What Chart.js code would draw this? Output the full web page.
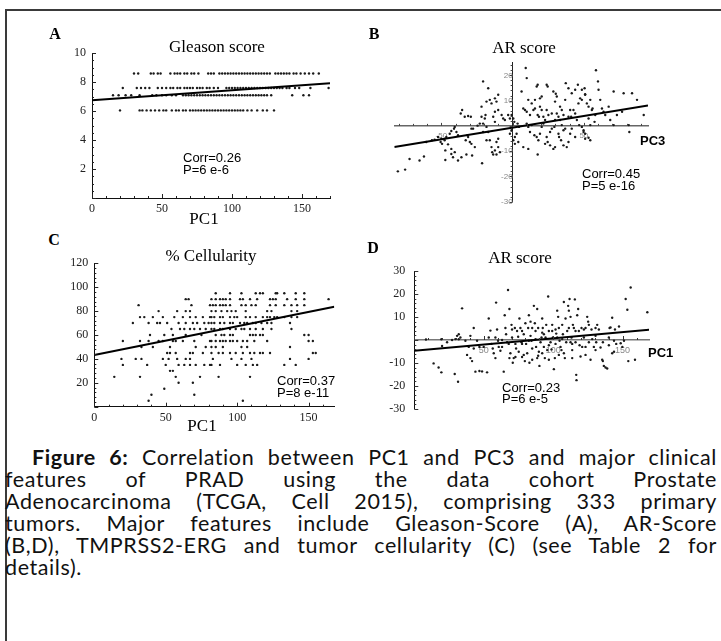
<!DOCTYPE html>
<html>
<head>
<meta charset="utf-8">
<script src="https://cdn.jsdelivr.net/npm/chart.js@4.4.0/dist/chart.umd.min.js"></script>
<style>
body { margin: 0; background: #fff; }
#fig { position: relative; width: 721px; height: 641px; overflow: hidden; background: #fff; }
.frame { position: absolute; left: 5px; top: 9px; width: 760px; height: 700px;
         border-left: 2px solid #3a3a3a; border-top: 2px solid #3a3a3a; }
canvas { position: absolute; }
.lab { position: absolute; white-space: nowrap; color: #000; line-height: 1; transform: translate(-50%, -50%); }
.left { transform: translate(0, -50%); }
.serif { font-family: "Liberation Serif", "Times New Roman", serif; }
.sans { font-family: "Liberation Sans", Arial, sans-serif; }
.cap { position: absolute; left: 5px; top: 446px; width: 712px; font-family: Lato, sans-serif;
       font-size: 21.5px; letter-spacing: 0.6px; line-height: 22px; color: #111; }
.cap div { text-align: justify; text-align-last: justify; white-space: nowrap; }
.cap div.last { text-align-last: left; }
</style>
</head>
<body>
<div id="fig">
  <div class="frame"></div>

  <canvas id="chartA" width="310" height="190" style="left:40px;top:40px"></canvas>
  <canvas id="chartB" width="290" height="160" style="left:380px;top:55px"></canvas>
  <canvas id="chartC" width="310" height="190" style="left:40px;top:250px"></canvas>
  <canvas id="chartD" width="300" height="170" style="left:370px;top:255px"></canvas>

  <div class="lab serif" style="left:55px;top:34px;font-size:16px;font-weight:bold">A</div>
  <div class="lab serif" style="left:217px;top:46px;font-size:17px">Gleason score</div>
  <div class="lab sans left" style="left:183px;top:157px;font-size:13px">Corr=0.26</div>
  <div class="lab sans left" style="left:183px;top:169px;font-size:13px">P=6 e-6</div>
  <div class="lab serif" style="left:204px;top:218px;font-size:17px">PC1</div>

  <div class="lab serif" style="left:374px;top:34px;font-size:16px;font-weight:bold">B</div>
  <div class="lab serif" style="left:524px;top:47px;font-size:17px">AR score</div>
  <div class="lab sans left" style="left:640px;top:140px;font-size:13px;font-weight:bold">PC3</div>
  <div class="lab sans left" style="left:582px;top:173px;font-size:13px">Corr=0.45</div>
  <div class="lab sans left" style="left:582px;top:185px;font-size:13px">P=5 e-16</div>

  <div class="lab serif" style="left:54px;top:240px;font-size:16px;font-weight:bold">C</div>
  <div class="lab serif" style="left:211px;top:255px;font-size:17px">% Cellularity</div>
  <div class="lab sans left" style="left:277px;top:380px;font-size:13px">Corr=0.37</div>
  <div class="lab sans left" style="left:277px;top:392px;font-size:13px">P=8 e-11</div>
  <div class="lab serif" style="left:202px;top:425px;font-size:17px">PC1</div>

  <div class="lab serif" style="left:373px;top:248px;font-size:16px;font-weight:bold">D</div>
  <div class="lab serif" style="left:520px;top:257px;font-size:17px">AR score</div>
  <div class="lab sans left" style="left:648px;top:352px;font-size:13px;font-weight:bold">PC1</div>
  <div class="lab sans left" style="left:502px;top:387px;font-size:13px">Corr=0.23</div>
  <div class="lab sans left" style="left:502px;top:398px;font-size:13px">P=6 e-5</div>

  <div class="cap">
    <div style="text-indent:27px"><b>Figure 6:</b> Correlation between PC1 and PC3 and major clinical</div>
    <div>features of PRAD using the data cohort Prostate</div>
    <div>Adenocarcinoma (TCGA, Cell 2015), comprising 333 primary</div>
    <div>tumors. Major features include Gleason-Score (A), AR-Score</div>
    <div>(B,D), TMPRSS2-ERG and tumor cellularity (C) (see Table 2 for</div>
    <div class="last">details).</div>
  </div>
</div>

<script>
// ---- A: Gleason score vs PC1 (points sit on a few score levels)
const gleasonLevels = [8.6, 7.6, 7.1, 6.05];
const gleasonRowsX = [
  [30,33,42,44,47,49,56,59,61,63,66,68,71,73,76,83,85,87,91,93,95,97,99,101,103,105,107,109,111,113,115,117,119,121,123,125,127,131,133,135,137,139,141,144,146,149,152,155,158,162],
  [22,32,35,38,41,47,50,53,56,58,61,63,66,68,70,72,75,77,79,82,84,87,90,96,98,100,102,104,106,108,110,112,114,116,118,120,122,124,126,128,130,132,134,136,139,141,145,148,156,169],
  [15,19,24,28,34,43,46,50,53,57,60,65,67,69,71,73,75,77,79,81,83,85,87,89,91,93,95,97,99,101,103,105,107,109,111,113,115,117,119,121,123,125,128,143,151,155],
  [20,34,36,39,42,45,48,51,53,57,60,62,65,67,70,72,74,76,78,80,82,84,86,88,90,92,94,96,98,100,102,104,106,108,111,114,118,122,125,130]
];
const gleasonFitX = [0, 170];
const gleasonFitY = [6.75, 7.93];
const aXTicks = [0, 50, 100, 150];
const aYTicks = [2, 4, 6, 8, 10];

// ---- B: AR score vs PC3
const arPC3X = [-80.5,-75.4,-72.3,-65.3,-62.2,-60.6,-56.6,-54.7,-52.3,-50,-47.7,-46.5,-44.1,-43,-41.1,-40.6,-39.4,-38.3,-36.4,-35.4,
  -33.6,-31.2,-29.3,-27.7,-31.2,-30,-28.9,-26.5,-28.4,-32.4,-35.9,-38.3,-41.8,-43,-47.2,-47.2,-50.5,-49.5,-45.3,-43,-40.6,
  -20.7,-17.1,-16,-14.8,-12.4,-11.3,-10.1,-12.4,-13.6,-12.4,-10.1,-7.7,-6.6,-5.4,-3.1,-1.9,-21.8,-19.5,-19,-20.7,
  -18.3,-17.1,-14.8,-14.3,-12.4,-11.3,-10.1,-11.3,-10.1,-8.9,-13.6,-21.4,-18.3,-16,
  -0.7,0.5,1.2,-0.7,-1.9,1.6,4,2.8,4.5,3.5,
  9.2,9.9,6.3,7.5,8.7,9.9,11,13.4,12.2,14.6,15.7,16.9,19.2,17.6,18.5,9.9,11,12.2,13.4,15.3,
  16.9,18.1,19.2,20.4,21.6,22.8,23.9,24.6,26.3,27.5,29.3,29.8,31,32.2,29.8,31,33.3,34.5,35.7,36.9,
  23.9,24.6,28.6,30.3,33.3,34.5,35.7,36.9,32.2,32.6,34,35.7,38,39.2,40.4,41.5,41.1,42.7,43.9,45.1,
  46.7,48.6,49.8,50.9,46.2,47.4,48.6,50.9,52.1,53.3,50.5,50.9,48.6,45.8,43.9,41.5,39.2,37.3,40.4,54.5,
  55.6,53.3,58,58.5,59.9,60.3,61.5,62.7,63.8,65,67.4,68.5,70.9,70.9,73.2,76.8,77.9,81.5,81.9,83.8,
  87.3,92,56.1,57.5,54.5,53.3,50.9,49.8,54.5,39.2,43.9,26.3,28.6,29.8,22.8,21.6,15.7,19.2,20.4,27.5,
  25.1,23.9,20.4,17.6,
  -31.7,-32.9,-28.9,-24.6,-23,-20.7,-18.3,-21.8,
  7.5,11,17.6,1.6,0.5];
const arPC3Y = [-18,-17.3,-13.1,-13.7,-12.1,-6.4,-5.7,-5.5,-4.4,-5.1,-5.7,-4.4,-3.1,-2,-1.1,-0.4,-2.4,-3.7,4.9,6.3,
  3.6,3.9,3.6,-1.1,-4.4,-6.4,-7.1,-8.4,-11.7,-11.3,-12.4,-13.7,-12.4,-11.1,-9.7,-13.5,-6.4,-7.1,-7.3,-9.1,-10.4,
  17.6,14.9,10.3,8.9,10.9,9.6,12.3,5.6,3.6,1.6,6.3,4.3,2.9,2.3,4.3,2.9,3.6,2.9,4.3,0.9,
  -0.4,-2.4,-8.4,-10.4,-9.7,-11.3,-8.4,-6.4,-5.1,-10.4,-11.3,-14.8,-5.7,-5.7,
  4.3,2.9,1.6,-1.7,-3.1,-4.4,-6.4,-3.1,-0.4,0.9,
  22.9,18.9,13.6,6.9,6.3,5.6,10.3,8.9,4.3,6.3,6.9,15.6,10.9,4.3,3.6,0.9,-0.4,-2.4,0.3,-3.7,
  -4.4,-5.7,-3.1,-0.4,0.9,-7.1,-4.4,-6.4,-2.4,-1.1,-0.4,2.3,4.9,3.6,9.6,11.6,7.6,6.3,4.3,10.3,
  16.3,15.6,13.6,12.7,2.3,0.3,-1.7,-1.1,-3.1,-4.4,-5.7,-7.7,-8.4,-6.4,-3.1,-1.1,3.6,6.3,4.9,2.3,
  0.3,-0.4,-1.7,-3.1,8.9,10.9,10.3,12.3,8.9,7.6,14.9,12.5,14.3,16.3,14.3,12.9,14.9,16.9,6.3,10.3,
  6.3,2.9,4.3,22,17.6,14.3,10.3,6.9,5.6,4.3,7.6,2.3,0.3,13.6,4.3,5.6,12.9,0.3,-2.4,12.9,
  10.3,4.3,6.9,1.6,-5.7,-4.7,-5.1,-2.4,0.3,3.6,-4.4,-7.7,-9.1,-8.4,2.3,3.6,10.3,7.6,6.3,4.9,
  4.3,6.3,11.6,16.3,
  -3.7,-5.7,-1.1,0.1,0.9,-2.4,9.6,7.6,
  -8.4,-9.1,-11.3,-7.1,-5.7];
const arPC3FitX = [-83, 95];
const arPC3FitY = [-8.4, 8.1];
const bXTicks = [-50, 50];
const bYTicks = [-30, -20, -10, 10, 20];

// ---- C: % cellularity vs PC1 (values come in steps of 5)
const cellLevels = [95, 90, 85, 80, 75, 70, 65, 60, 55, 50, 45, 40, 35, 30, 25, 20, 15, 10, 5];
const cellRowsX = [
  [85,95,103,113,116,118,127,128,133,141,147],
  [64,66,82,85,88,90,92,95,102,104,109,114,123,125,127,135,141,147,164],
  [31,68,81,83,85,88,90,92,95,103,106,110,113,123,127,133,138,142,147],
  [45,58,64,67,82,85,89,93,96,99,106,121,124,138,142],
  [32,35,41,48,56,62,67,71,76,81,82,84,88,90,95,98,100,106,109,113,118,121,123,126,128,133,138,142],
  [27,38,44,46,51,59,64,69,72,77,80,82,84,88,91,95,97,102,105,107,111,113,117,121,124,137],
  [54,60,63,67,70,74,78,82,84,88,90,95,99,103,105,109,113,118,124,138],
  [39,49,55,64,75,85,89,91,95,97,109,111,113,116,118,147,150],
  [20,32,38,45,48,55,57,62,70,81,82,85,88,90,92,95,97,100,104,107,112,121,150,153],
  [33,41,53,71,78,82,85,90,103,107,137],
  [51,53,57,67,69,76,82,87,90,95,99,104,109,112,116,118,123,153,155],
  [19,29,33,48,52,58,64,67,83,96,103,110,137,150],
  [20,37,50,59,63,67,71,77,81,82,88,100,106,111,114,133,141],
  [53,55],
  [14,32,57,74,87,109],
  [59,69],
  [49],
  [40,70],
  [38,104]
];
const cellFitX = [0, 168];
const cellFitY = [43.2, 83.7];
const cXTicks = [0, 50, 100, 150];
const cYTicks = [20, 40, 60, 80, 100, 120];

// ---- D: AR score vs PC1
const arPC1X = [0.2,8.4,19.5,29.6,32,23.6,13.9,17.5,19.5,20,29.1,31.5,34.4,27.2,30.8,32,33.2,38,39.2,40.4,
  41.6,42.8,44,46.9,48.8,50,52.4,53.6,54.8,55.5,56.5,57.2,58.4,58.9,59.6,60.3,60.8,62,63.2,64.4,
  65.1,65.6,66.1,66.8,67.5,68.5,69.2,70,70.4,70.9,71.6,72.4,72.8,73.3,74,74.8,75.2,75.7,76.4,77.2,
  77.6,78.8,79.6,80,80.5,81.3,82,82.5,82.9,83.7,84.4,84.9,86.1,86.8,87.3,87.7,88.5,89.2,89.7,90.1,
  90.9,91.6,92.1,92.5,93.3,94,94.5,95,95.7,96.4,96.9,98.1,98.8,99.3,99.8,100.5,101.2,101.7,102.2,102.9,
  103.6,104.1,104.6,105.3,106,106.5,107,107.7,108.4,108.9,109.4,110.1,110.8,111.3,111.8,112.5,113.2,113.7,114.2,114.9,
  115.6,116.1,116.6,116.8,117.3,118,118.5,119,119.7,120.4,120.9,122.1,123.3,124.5,125.2,125.7,126.9,127.6,128.1,129.3,
  130.5,131,131.7,132.9,134.1,135.3,135.8,136.5,137.7,138.9,140.1,140.6,141.3,142.5,143.8,144.5,145.4,147.4,148.6,149.8,
  151,152.2,153.4,154.1,155.8,158.9,167.8,142.5,140.1,130.5,122.1,111.3,101.7,96.9,92.1,87.3,82.5,77.6,72.8,68,
  63.2,58.4,53.6,46.9,45.2,42.8,40.4,36.8,83.7,88.5,93.3,99.3,102.9,107.7,112.5,116.1,123.3,130.5,
  68.5,78.8,84.9,89.2,104.1,113.7,123.3,96.9,70.4,77.6,84.9,92.1,106.5,113.7,125.7,135.8,143.8];
const arPC1Y = [5.7,0.2,0.3,0.4,0.3,-1,-10.2,-12,-14.1,-2.6,-14.8,-18.2,13.8,0,1.8,2.5,1.1,-6.5,-3,-7.9,
  -9.2,-3.7,-13.8,-13.5,-13.7,-3,-14.1,9.4,4.1,-1.7,-3.7,-5.8,-7.9,16.3,4.6,-0.3,-3,-4.7,0,-13.8,
  10.8,5.2,2.5,-1,21.8,13.5,-5.8,6.6,1.1,-9.9,-7.9,5.2,-1.7,-3.7,3.9,1.4,-5.1,9.4,5.2,-1,
  -7.4,2.5,-9.2,7.3,-1.7,-5.8,5.2,10.8,-9.9,1.8,-0.3,-8.6,14.9,7.3,3.9,-3,13.5,5.2,-5.1,-11.3,
  -1,1.1,9.4,5.2,-3,-7.9,1.1,6.6,-4.4,19,3.9,-1,-4.1,6.6,1.1,-12.7,-7.9,-1.7,2.8,12.8,
  10.1,5.2,-0.3,-3,-4.4,6.6,2.5,16.6,-7.9,9.4,-1,3.9,14.9,12.8,17.9,10.1,1.1,-4.4,6.6,5.2,
  17.7,-1,-15.2,-17.5,10.8,13.5,3.9,-2.3,-7.2,5.2,-3,1.1,5.2,10.1,8,6.6,-8.6,4.6,0.4,-3,
  1.8,-1,6.6,4.6,-3.3,-8.6,-9.2,-11.3,-12,-12.4,1.1,5.2,5.5,9.7,-5.1,4.6,-1.7,5.9,-1.4,-3,
  -0.3,17.9,13.2,-9.2,22.9,-8.6,12.1,-5.8,-2.3,5.2,4.6,5.2,4.6,-2.3,-5.8,0.4,-0.3,-1.7,-7.4,-1.7,
  -3,1.1,1.1,-3,-0.3,5.2,1.8,-0.3,8,-7.9,2.5,3.9,1.1,-5.8,-1,3.9,-3,-4.4,
  -7.9,-6.5,-3.7,-6.9,-6.5,-7.9,-6.5,-8.6,4.6,3.9,5.2,3.2,0.4,-1.7,-1,-1,-0.3];
const arPC1FitX = [0, 170];
const arPC1FitY = [-4.7, 4.5];
const dXTicks = [50, 100, 150];
const dYTicks = [-30, -20, -10, 10, 20, 30];

// small inward tick marks along the axes, Mathematica style
const innerTicks = {
  id: 'innerTicks',
  afterDraw(chart, args, o) {
    if (!o || !o.xStep) return;
    const { ctx, chartArea: ca, scales: { x, y } } = chart;
    const y0 = o.xAxisAt === undefined ? ca.bottom : y.getPixelForValue(o.xAxisAt);
    const x0 = o.yAxisAt === undefined ? ca.left : x.getPixelForValue(o.yAxisAt);
    ctx.save();
    ctx.strokeStyle = o.color || '#222';
    ctx.lineWidth = 1;
    ctx.beginPath();
    for (let v = Math.ceil(x.min / o.xStep) * o.xStep; v <= x.max + 1e-9; v += o.xStep) {
      const px = Math.round(x.getPixelForValue(v)) + 0.5;
      const len = Math.abs(v % o.xMajor) < 1e-6 ? o.majorLen : o.minorLen;
      ctx.moveTo(px, y0);
      ctx.lineTo(px, y0 - len);
    }
    for (let v = Math.ceil(y.min / o.yStep) * o.yStep; v <= y.max + 1e-9; v += o.yStep) {
      const py = Math.round(y.getPixelForValue(v)) + 0.5;
      const r = Math.abs(v % o.yMajor);
      const len = (r < 1e-6 || Math.abs(r - o.yMajor) < 1e-6) ? o.majorLen : o.minorLen;
      ctx.moveTo(x0, py);
      ctx.lineTo(x0 + len * o.yDir, py);
    }
    ctx.stroke();
    ctx.restore();
  }
};

function pairs(xs, ys) {
  return xs.map((v, i) => ({ x: v, y: ys[i] }));
}

function rows(levels, rowsX) {
  const out = [];
  levels.forEach((lv, i) => rowsX[i].forEach(v => out.push({ x: v, y: lv })));
  return out;
}

function datasets(points, fitX, fitY) {
  return [
    { data: pairs(fitX, fitY), showLine: true, borderColor: '#000', borderWidth: 2,
      pointRadius: 0, fill: false },
    { data: points, pointRadius: 1.2, pointBackgroundColor: '#1a1a1a', pointBorderWidth: 0 }
  ];
}

function fixedTicks(list) {
  return s => { s.ticks = list.map(v => ({ value: v })); };
}

const serifTick = { family: 'Liberation Serif', size: 12 };
const tinyTick = { family: 'Liberation Sans', size: 8 };
const noGrid = { drawOnChartArea: false, drawTicks: false };

const common = {
  responsive: false,
  animation: false,
  events: [],
  plugins: { legend: { display: false }, tooltip: { enabled: false } }
};

// A
new Chart(document.getElementById('chartA'), {
  type: 'scatter',
  data: { datasets: datasets(rows(gleasonLevels, gleasonRowsX), gleasonFitX, gleasonFitY) },
  options: Object.assign({}, common, {
    layout: { padding: { top: 9.3, right: 20, left: 0, bottom: 0 } },
    plugins: Object.assign({}, common.plugins, {
      innerTicks: { xStep: 10, xMajor: 50, yStep: 0.5, yMajor: 2, yDir: 1, minorLen: 2, majorLen: 4 }
    }),
    scales: {
      x: { type: 'linear', min: 0, max: 170, afterBuildTicks: fixedTicks(aXTicks),
           ticks: { font: serifTick, color: '#222', padding: 4, maxRotation: 0 },
           grid: noGrid, border: { color: '#111', width: 1 },
           afterFit: s => { s.height = 32; } },
      y: { type: 'linear', min: 0, max: 10, afterBuildTicks: fixedTicks(aYTicks),
           ticks: { font: serifTick, color: '#222', padding: 6 },
           grid: noGrid, border: { color: '#111', width: 1 },
           afterFit: s => { s.width = 52; } }
    }
  }),
  plugins: [innerTicks]
});

// B
new Chart(document.getElementById('chartB'), {
  type: 'scatter',
  data: { datasets: datasets(pairs(arPC3X, arPC3Y), arPC3FitX, arPC3FitY) },
  options: Object.assign({}, common, {
    layout: { padding: { left: 14.3, top: 7.7, right: 22, bottom: 13.3 } },
    plugins: Object.assign({}, common.plugins, {
      innerTicks: { xStep: 10, xMajor: 50, yStep: 2, yMajor: 10, yDir: -1, xAxisAt: 0, yAxisAt: 0,
                    minorLen: 2, majorLen: 3, color: '#444' }
    }),
    scales: {
      x: { type: 'linear', min: -83, max: 95, position: { y: 0 }, afterBuildTicks: fixedTicks(bXTicks),
           ticks: { font: tinyTick, color: '#888', padding: 2, maxRotation: 0 },
           grid: { drawOnChartArea: false, drawTicks: true, tickLength: 3, color: 'rgba(0,0,0,0)' },
           border: { color: '#666', width: 1.6 } },
      y: { type: 'linear', min: -30, max: 25, position: { x: 0 }, afterBuildTicks: fixedTicks(bYTicks),
           ticks: { font: tinyTick, color: '#888', padding: 2 },
           grid: { drawOnChartArea: false, drawTicks: true, tickLength: 3, color: 'rgba(0,0,0,0)' },
           border: { color: '#222', width: 1 } }
    }
  }),
  plugins: [innerTicks]
});

// C
new Chart(document.getElementById('chartC'), {
  type: 'scatter',
  data: { datasets: datasets(rows(cellLevels, cellRowsX), cellFitX, cellFitY) },
  options: Object.assign({}, common, {
    layout: { padding: { top: 13.3, right: 15.7, left: 0, bottom: 0 } },
    plugins: Object.assign({}, common.plugins, {
      innerTicks: { xStep: 10, xMajor: 50, yStep: 4, yMajor: 20, yDir: 1, minorLen: 2, majorLen: 4 }
    }),
    scales: {
      x: { type: 'linear', min: 0, max: 168, afterBuildTicks: fixedTicks(cXTicks),
           ticks: { font: serifTick, color: '#222', padding: 4, maxRotation: 0 },
           grid: noGrid, border: { color: '#111', width: 1 },
           afterFit: s => { s.height = 33.3; } },
      y: { type: 'linear', min: 0, max: 120, afterBuildTicks: fixedTicks(cYTicks),
           ticks: { font: serifTick, color: '#222', padding: 6 },
           grid: noGrid, border: { color: '#111', width: 1 },
           afterFit: s => { s.width = 54.3; } }
    }
  }),
  plugins: [innerTicks]
});

// D
new Chart(document.getElementById('chartD'), {
  type: 'scatter',
  data: { datasets: datasets(pairs(arPC1X, arPC1Y), arPC1FitX, arPC1FitY) },
  options: Object.assign({}, common, {
    layout: { padding: { top: 10.7, right: 21, left: 0, bottom: 14 } },
    plugins: Object.assign({}, common.plugins, {
      innerTicks: { xStep: 10, xMajor: 50, yStep: 2, yMajor: 10, yDir: 1, xAxisAt: 0,
                    minorLen: 2, majorLen: 4, color: '#333' }
    }),
    scales: {
      x: { type: 'linear', min: 0, max: 169, position: { y: 0 }, afterBuildTicks: fixedTicks(dXTicks),
           ticks: { font: { family: 'Liberation Sans', size: 9 }, color: '#888', padding: 2, maxRotation: 0 },
           grid: { drawOnChartArea: false, drawTicks: true, tickLength: 3, color: 'rgba(0,0,0,0)' },
           border: { color: '#777', width: 1.6 } },
      y: { type: 'linear', min: -30, max: 30, afterBuildTicks: fixedTicks(dYTicks),
           ticks: { font: serifTick, color: '#222', padding: 9 },
           grid: noGrid, border: { color: '#111', width: 1 },
           afterFit: s => { s.width = 44.3; } }
    }
  }),
  plugins: [innerTicks]
});
</script>
</body>
</html>
